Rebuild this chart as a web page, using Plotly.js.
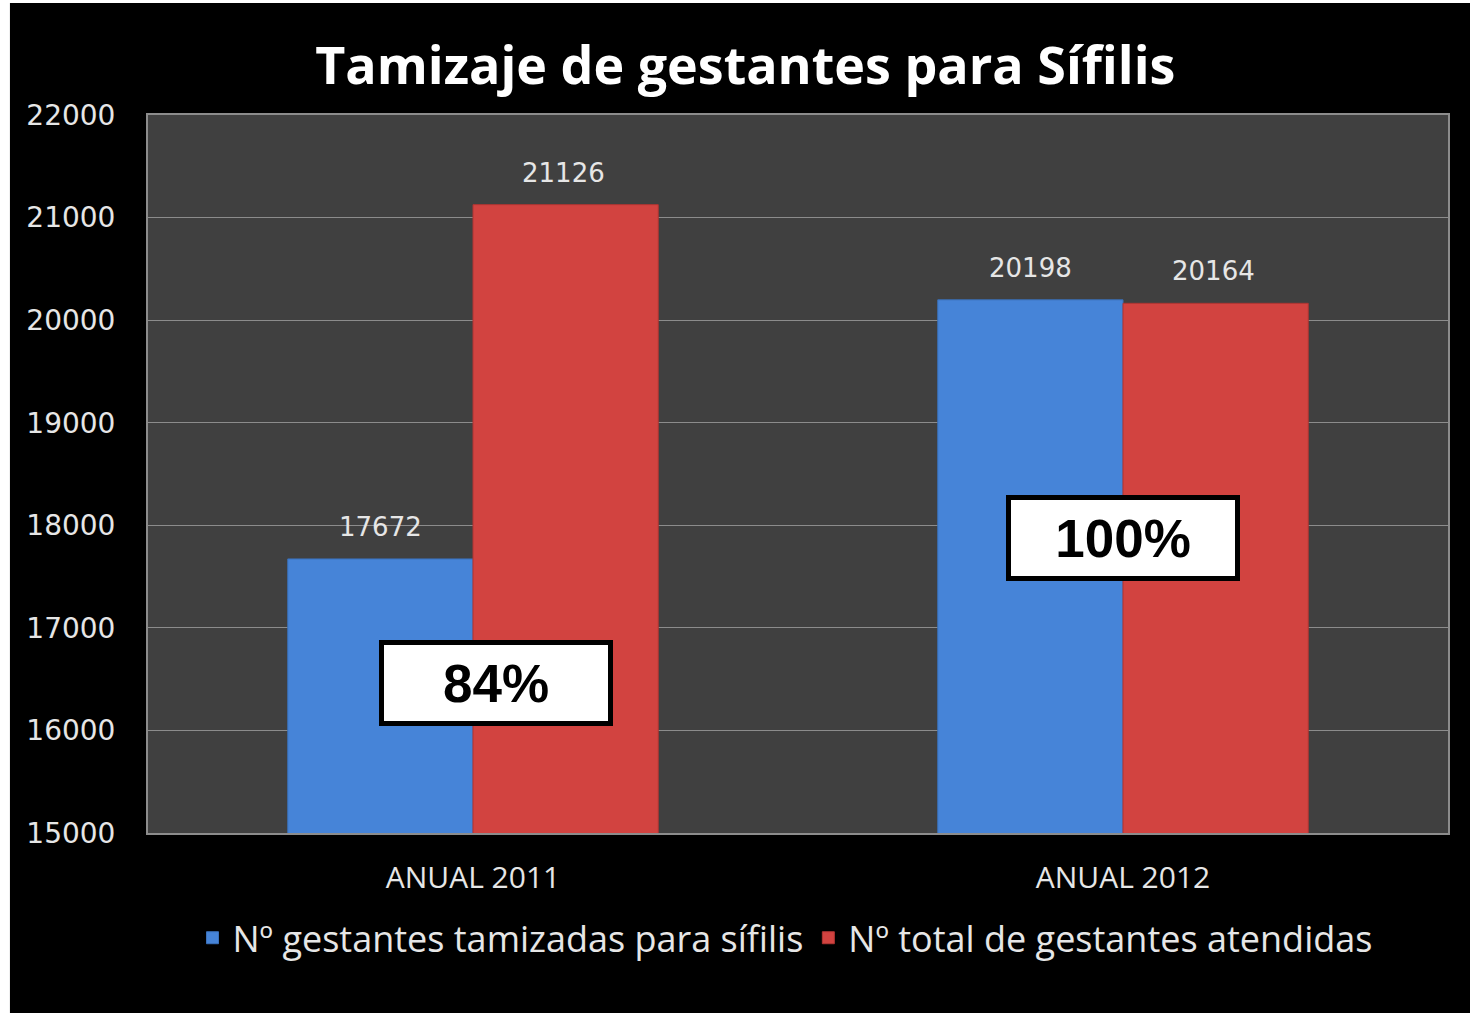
<!DOCTYPE html>
<html>
<head>
<meta charset="utf-8">
<script src="https://cdn.plot.ly/plotly-3.0.1.min.js"></script>
<style>
  html, body { margin: 0; padding: 0; background: #000; }
  #chart { width: 1470px; height: 1013px; }
</style>
</head>
<body>
<div id="chart"></div>
<script>
// datos
var categorias = ["ANUAL 2011", "ANUAL 2012"];
var tamizadas = [17672, 20198];
var atendidas = [21126, 20164];
var porcentajes = ["84%", "100%"];
var nombreTamizadas = "Nº gestantes tamizadas para sífilis";
var nombreAtendidas = "Nº total de gestantes atendidas";
var yTicks = [15000, 16000, 17000, 18000, 19000, 20000, 21000, 22000];

var labelFont = { family: "DejaVu Sans", size: 26, color: "#e6e6e6" };

var traceT = {
    x: categorias,
    y: tamizadas,
    name: nombreTamizadas,
    type: "bar",
    marker: { color: "#4684d8", line: { color: "#3a70ba", width: 1 } }
};
var traceA = {
    x: categorias,
    y: atendidas,
    name: nombreAtendidas,
    type: "bar",
    marker: { color: "#d24340", line: { color: "#b03532", width: 1 } }
};

// etiquetas de valor sobre cada barra (desplazadas a su barra del grupo)
var etiquetas = [];
categorias.forEach(function (c, i) {
    etiquetas.push({ x: c, y: tamizadas[i], xref: "x", yref: "y", text: String(tamizadas[i]),
        showarrow: false, font: labelFont, xshift: -93, yshift: 32, yanchor: "middle" });
    etiquetas.push({ x: c, y: atendidas[i], xref: "x", yref: "y", text: String(atendidas[i]),
        showarrow: false, font: labelFont, xshift: 90, yshift: 32, yanchor: "middle" });
});

// cajas de porcentaje
var posCajas = [[0.035, 16460], [1.0, 17880]];
var cajas = porcentajes.map(function (p, i) {
    return {
        x: posCajas[i][0], y: posCajas[i][1],
        xref: "x", yref: "y",
        text: "<b>" + p + "</b>",
        showarrow: false,
        font: { family: "Liberation Sans", size: 53, color: "#000" },
        bgcolor: "#ffffff",
        bordercolor: "#000000",
        borderwidth: 5,
        width: 222,
        height: 74
    };
});

var layout = {
    width: 1470,
    height: 1013,
    paper_bgcolor: "#000000",
    plot_bgcolor: "#404040",
    margin: { l: 148, r: 22, t: 115, b: 180 },
    title: {
        text: "<b>Tamizaje de gestantes para Sífilis</b>",
        font: { family: "Open Sans", size: 52, color: "#ffffff" },
        x: 0.507, xanchor: "center",
        y: 0.935, yanchor: "middle"
    },
    barmode: "group",
    bargap: 0.43,
    bargroupgap: 0,
    showlegend: true,
    legend: {
        orientation: "h",
        x: 0.49, xanchor: "center",
        y: -0.146, yanchor: "middle",
        font: { family: "Open Sans", size: 36, color: "#e6e6e6" },
        bgcolor: "rgba(0,0,0,0)"
    },
    xaxis: {
        type: "category",
        tickfont: { family: "Open Sans", size: 30, color: "#e6e6e6" },
        ticklabelstandoff: 17,
        ticks: "",
        showgrid: false,
        showline: true,
        linecolor: "#8c8c8c",
        linewidth: 2,
        mirror: true,
        fixedrange: true
    },
    yaxis: {
        range: [15000, 22000],
        tickvals: yTicks,
        ticktext: yTicks.map(String),
        tickfont: { family: "DejaVu Sans", size: 28, color: "#e6e6e6" },
        ticklabelstandoff: 25,
        ticks: "",
        showgrid: true,
        gridcolor: "#8c8c8c",
        gridwidth: 1,
        showline: true,
        linecolor: "#8c8c8c",
        linewidth: 2,
        mirror: true,
        zeroline: false,
        fixedrange: true
    },
    annotations: etiquetas.concat(cajas),
    shapes: [
        // franja blanca a la izquierda y arriba de la imagen original
        { type: "rect", xref: "paper", yref: "paper", x0: -0.12, x1: -0.1062, y0: -0.26, y1: 1.17,
          fillcolor: "#ffffff", line: { width: 0 }, layer: "above" },
        { type: "rect", xref: "paper", yref: "paper", x0: -0.12, x1: 1.02, y0: 1.156, y1: 1.17,
          fillcolor: "#ffffff", line: { width: 0 }, layer: "above" }
    ]
};

Plotly.newPlot("chart", [traceT, traceA], layout, { staticPlot: true });
</script>
</body>
</html>
